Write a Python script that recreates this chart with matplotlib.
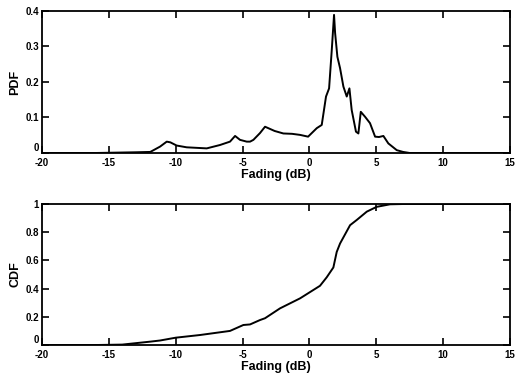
import matplotlib
matplotlib.use("Agg")
import matplotlib.pyplot as plt

plt.rcParams['font.family'] = ['Liberation Sans', 'DejaVu Sans']
plt.rcParams['font.weight'] = 'bold'

# PDF of fading (dB)
pdf_x = [-20, -16.0, -13.0, -11.9, -11.17, -10.67, -10.4, -9.93, -9.18, -7.68, -6.69,
         -5.94, -5.56, -5.19, -4.69, -4.44, -4.19, -3.7, -3.32, -2.6, -1.95, -1.3, -0.7,
         -0.1, 0.55, 0.92, 1.24, 1.47, 1.67, 1.84, 1.92, 2.09, 2.29, 2.54, 2.79, 2.99,
         3.16, 3.48, 3.66, 3.84, 4.16, 4.53, 4.91, 5.2, 5.53, 5.9, 6.53, 7.0, 7.5, 15]
pdf_y = [0, 0, 0.002, 0.003, 0.018, 0.032, 0.030, 0.021, 0.016, 0.013, 0.0225,
         0.032, 0.048, 0.037, 0.032, 0.032, 0.037, 0.056, 0.074, 0.062, 0.055, 0.054, 0.051,
         0.046, 0.070, 0.079, 0.159, 0.182, 0.29, 0.389, 0.338, 0.271, 0.239, 0.187, 0.159, 0.182,
         0.121, 0.060, 0.055, 0.116, 0.102, 0.084, 0.046, 0.045, 0.048, 0.027, 0.008, 0.003, 0, 0]

# CDF of fading (dB)
cdf_x = [-20, -16.0, -14.0, -11.9, -11.17, -10.0, -8.18, -5.94, -4.94, -4.44, -3.7, -3.32,
         -2.2, -0.7, 0.79, 1.29, 1.79, 2.04, 2.29, 3.04, 3.54, 4.29, 5.03, 6.03, 7.0, 15]
cdf_y = [0, 0, 0.003, 0.024, 0.032, 0.052, 0.071, 0.10, 0.142, 0.146, 0.177, 0.19,
         0.26, 0.331, 0.42, 0.48, 0.55, 0.66, 0.72, 0.85, 0.887, 0.946, 0.98, 0.998, 1.0, 1.0]

x_ticks = [-20, -15, -10, -5, 0, 5, 10, 15]
pdf_ticks = [0, 0.1, 0.2, 0.3, 0.4]
pdf_labels = ['0', '0.1', '0.2', '0.3', '0.4']
cdf_ticks = [0, 0.2, 0.4, 0.6, 0.8, 1]
cdf_labels = ['0', '0.2', '0.4', '0.6', '0.8', '1']

fig = plt.figure(figsize=(5.17, 3.76), dpi=100)
ax1 = fig.add_axes([0.0812, 0.5931, 0.9053, 0.3777])
ax2 = fig.add_axes([0.0812, 0.0824, 0.9053, 0.375])

for ax, x, y, yt, yl, name, ylim in [
        (ax1, pdf_x, pdf_y, pdf_ticks, pdf_labels, 'PDF', (0, 0.4)),
        (ax2, cdf_x, cdf_y, cdf_ticks, cdf_labels, 'CDF', (0, 1))]:
    ax.plot(x, y, color='black', lw=1.4)
    ax.set_xlim(-20, 15)
    ax.set_ylim(*ylim)
    ax.set_xticks(x_ticks)
    ax.set_xticklabels([str(t) for t in x_ticks])
    ax.set_yticks(yt)
    ax.set_yticklabels(yl)
    ax.tick_params(direction='in', length=5, width=1.2, top=True, right=True,
                   labelsize=7)
    ax.tick_params(axis='x', pad=3.5)
    ax.tick_params(axis='y', pad=2)
    for lab in ax.get_xticklabels() + ax.get_yticklabels():
        lab.set_fontweight('bold')
    ax.get_yticklabels()[0].set_verticalalignment('bottom')
    for s in ax.spines.values():
        s.set_linewidth(1.3)
    ax.set_xlabel('Fading (dB)', fontsize=9, fontweight='bold', labelpad=1)
    ax.set_ylabel(name, fontsize=9, fontweight='bold', labelpad=3)

fig.savefig('out.png', dpi=100)
